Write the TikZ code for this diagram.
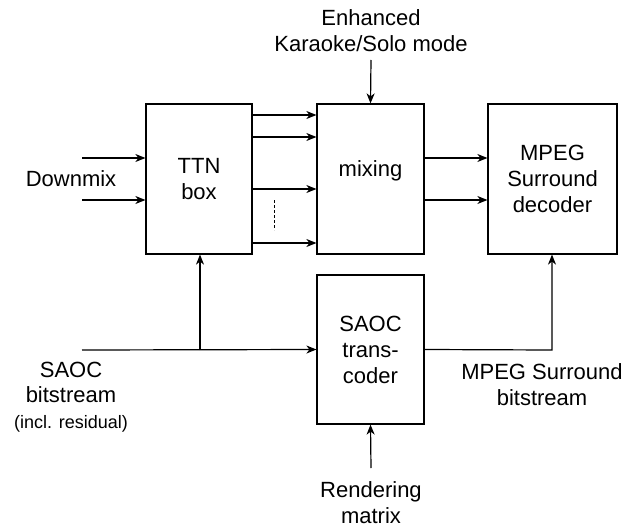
\documentclass[tikz,border=0pt]{standalone}
\usepackage{fontspec}
\setmainfont{Liberation Sans}
\usetikzlibrary{arrows.meta}
\begin{document}
\begin{tikzpicture}[x=1pt,y=-1pt,
  line width=1.2pt,
  blk/.style={draw,line width=1.2pt,inner sep=0pt,align=center},
  arr/.style={-{Stealth[length=10pt,width=8pt,inset=3pt]}},
  txt/.style={align=center,inner sep=0pt,font=\fontsize{22}{25.5}\selectfont}]
\useasboundingbox (0,0) rectangle (635,527);
% boxes
\node[blk,minimum width=106pt,minimum height=150pt,font=\fontsize{22}{26}\selectfont] (ttn) at (199,179) {TTN\\box};
\node[blk,minimum width=107pt,minimum height=150pt] (mix) at (370.5,179) {};
\node[txt] (mixtxt) at (370.5,171) {mixing};
\node[blk,minimum width=129pt,minimum height=150pt,font=\fontsize{22}{26}\selectfont] (mps) at (552.5,179) {MPEG\\Surround\\decoder};
\node[blk,minimum width=107pt,minimum height=149pt,font=\fontsize{22}{26}\selectfont] (sat) at (370.5,349.5) {SAOC\\trans-\\coder};
% labels
\node[txt] (enh) at (371,30.5) {Enhanced\\Karaoke/Solo mode};
\node[txt] (dmx) at (71,179) {Downmix};
\node[txt] (saoc) at (71,397) {SAOC\\bitstream\\{\fontsize{18}{25.5}\selectfont (incl. residual)}};
\node[txt] (msb) at (542,384.5) {MPEG Surround\\bitstream};
\node[txt] (rend) at (371,502.5) {Rendering\\matrix};
% coordinates
\coordinate (d1) at (82,158);
\coordinate (d2) at (82,200);
\coordinate (e0) at (371,60);
\coordinate (s0) at (82,350);
\coordinate (j) at (200,350);
\coordinate (r0) at (371,468);
\coordinate (k) at (552,350);
\coordinate (dashA) at (274,200);
\coordinate (dashB) at (274,230);
% downmix inputs
\draw[arr] (d1) -- (d1 -| ttn.west);
\draw[arr] (d2) -- (d2 -| ttn.west);
% TTN -> mixing
\foreach \yy in {115,137,189,243}{
  \draw[arr] (ttn.east |- 0,\yy) -- (mix.west |- 0,\yy);
}
\draw[line width=0.8pt,dash pattern=on 3pt off 2pt] (dashA) -- (dashB);
% mixing -> MPEG
\draw[arr] (mix.east |- 0,158) -- (mps.west |- 0,158);
\draw[arr] (mix.east |- 0,200) -- (mps.west |- 0,200);
% enhanced mode
\draw[arr] (e0) -- (mix.north);
% SAOC bitstream
\draw[arr] (s0) -- (sat.west);
\draw[arr] (j) -- (j |- ttn.south);
% transcoder -> MPEG decoder
\draw[arr] (sat.east) -- (k) -- (k |- mps.south);
% rendering matrix
\draw[arr] (r0) -- (sat.south);
\end{tikzpicture}
\end{document}
